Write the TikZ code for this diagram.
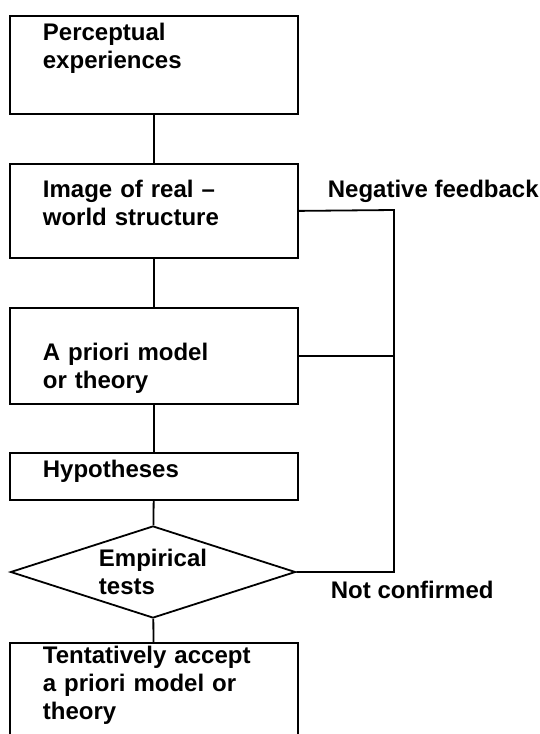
\documentclass[tikz,border=0pt]{standalone}
\usepackage{fontspec}
\setmainfont{Liberation Sans}
\usetikzlibrary{shapes.geometric}

\begin{document}
\begin{tikzpicture}[x=1pt, y=-1pt, line width=1.8pt, font=\fontsize{24}{28}\selectfont\bfseries,
  stage/.style={rectangle, draw, anchor=north west, align=left, text width=222pt, inner xsep=33pt, inner ysep=0pt},
  test/.style={diamond, draw, aspect=3.1, align=left, minimum width=285pt, minimum height=92pt, inner sep=0pt},
  note/.style={anchor=base west, inner sep=0pt}]
\useasboundingbox (0,0) rectangle (540,734);
\node[stage, text height=25pt, text depth=73pt] at (9,15) (percep) {Perceptual\\experiences};
\node[stage, text height=34pt, text depth=60pt] at (9,163) (image) {Image of real --\\world structure};
\node[stage, text height=53pt, text depth=43pt] at (9,307) (theory) {A priori model\\or theory};
\node[stage, text height=25pt, text depth=22pt] at (9,452) (hypo) {Hypotheses};
\node[test] at (153,572) (emp) {Empirical\\tests};
\node[stage, text height=21pt, text depth=97pt] at (9,642) (accept) {Tentatively accept\\a priori model or\\theory};
\node[note] at (327,197) (neg) {Negative feedback};
\node[note] at (330,598) (notconf) {Not confirmed};
\coordinate (fbtop) at (394,210);
\draw (percep) -- (image);
\draw (image) -- (theory);
\draw (theory) -- (hypo);
\draw (hypo) -- (emp);
\draw (emp) -- (accept);
\draw (image.east) -- (fbtop) |- (emp.east);
\draw (theory.east) -- (theory.east -| fbtop);
\end{tikzpicture}
\end{document}
